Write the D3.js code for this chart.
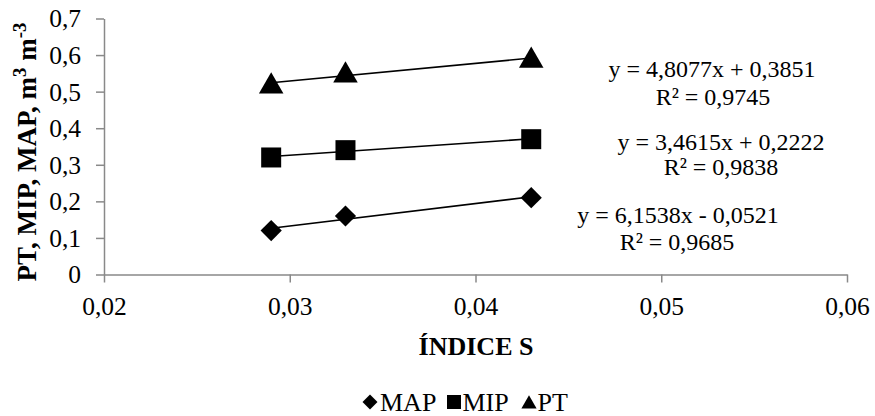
<!DOCTYPE html>
<html><head><meta charset="utf-8">
<script src="https://cdn.jsdelivr.net/npm/d3@7/dist/d3.min.js"></script>
<style>body{margin:0;background:#fff}svg{display:block}svg text{font-family:"Liberation Serif","Times New Roman",serif !important}</style>
</head><body>
<svg id="c" width="875" height="416"></svg>
<script>
const xValues = [0.029, 0.033, 0.043];
const seriesNames = ["MAP", "MIP", "PT"];
const mapValues = [0.12, 0.16, 0.21];
const mipValues = [0.32, 0.34, 0.37];
const ptValues = [0.52, 0.55, 0.59];
const xTicks = [0.02, 0.03, 0.04, 0.05, 0.06];
const yTicks = [0, 0.1, 0.2, 0.3, 0.4, 0.5, 0.6, 0.7];
const equations = ["y = 6,1538x - 0,0521", "y = 3,4615x + 0,2222", "y = 4,8077x + 0,3851"];
const r2Labels = ["R² = 0,9685", "R² = 0,9838", "R² = 0,9745"];

const svg = d3.select("#c");
const x = d3.scaleLinear().domain([0.02, 0.06]).range([104, 847]);
const y = d3.scaleLinear().domain([0, 0.7]).range([274.5, 18.5]);
const fmt = d => d3.format(".2f")(d).replace(".", ",");
const fmtY = d => d === 0 ? "0" : d3.format(".1f")(d).replace(".", ",");
const axisColor = "#898989";
const serif = '"Liberation Serif","Times New Roman",serif';

// axes
const xa = svg.append("g").attr("transform", "translate(0,274.5)")
  .call(d3.axisBottom(x).tickValues(xTicks).tickFormat(fmt).tickSize(8).tickSizeOuter(0));
const ya = svg.append("g").attr("transform", "translate(104,0)")
  .call(d3.axisLeft(y).tickValues(yTicks).tickFormat(fmtY).tickSize(8).tickSizeOuter(0));
[xa, ya].forEach(a => {
  a.attr("font-family", serif).attr("font-size", 25.5);
  a.selectAll("path,line").attr("stroke", axisColor).attr("stroke-width", 1.5);
  a.selectAll("text").attr("fill", "#000");
});
xa.selectAll("text").attr("dy", null).attr("y", 40.5);
ya.selectAll("text").attr("x", -23).attr("dy", "0.33em");

// series
const series = [
  {name: "MAP", values: mapValues, sym: d3.symbolSquare, size: 225, rot: 45},
  {name: "MIP", values: mipValues, sym: d3.symbolSquare, size: 400, rot: 0},
  {name: "PT", values: ptValues, sym: d3.symbolTriangle, size: 260, rot: 0}
];
function fit(xs, ys) {
  const mx = d3.mean(xs), my = d3.mean(ys);
  const b = d3.sum(xs, (v, i) => (v - mx) * (ys[i] - my)) / d3.sum(xs, v => (v - mx) ** 2);
  return {b, a: my - b * mx};
}
series.forEach(s => {
  const f = fit(xValues, s.values);
  const x0 = d3.min(xValues), x1 = d3.max(xValues);
  svg.append("line")
    .attr("x1", x(x0)).attr("y1", y(f.a + f.b * x0))
    .attr("x2", x(x1)).attr("y2", y(f.a + f.b * x1))
    .attr("stroke", "#000").attr("stroke-width", 1.6);
  svg.append("g").selectAll("path").data(xValues).join("path")
    .attr("d", d3.symbol().type(s.sym).size(s.size))
    .attr("transform", (d, i) => `translate(${x(d)},${y(s.values[i]) + (s.sym === d3.symbolTriangle ? 2 : 0)}) rotate(${s.rot})`)
    .attr("fill", "#000");
});

// equations
const eqPos = [[678, 223, 677, 250], [721, 150, 721, 175], [712, 77, 713, 105]];
equations.forEach((e, i) => {
  const p = eqPos[i];
  svg.append("text").attr("x", p[0]).attr("y", p[1]).attr("text-anchor", "middle").attr("font-size", 24).text(e);
  svg.append("text").attr("x", p[2]).attr("y", p[3]).attr("text-anchor", "middle").attr("font-size", 24).text(r2Labels[i]);
});

// axis titles
svg.append("text").attr("x", 476).attr("y", 355).attr("text-anchor", "middle")
  .attr("font-size", 26).attr("font-weight", "bold").text("ÍNDICE S");
const yt = svg.append("text").attr("transform", "translate(36,152) rotate(-90)")
  .attr("text-anchor", "middle").attr("font-size", 27).attr("font-weight", "bold");
yt.append("tspan").text("PT, MIP, MAP, m");
yt.append("tspan").attr("dy", -10).attr("font-size", 19).text("3");
yt.append("tspan").attr("dy", 10).text(" m");
yt.append("tspan").attr("dy", -10).attr("font-size", 19).text("-3");

// legend
const legX = [370, 454, 529];
const legSyms = [[d3.symbolSquare, 112, 45], [d3.symbolSquare, 196, 0], [d3.symbolTriangle, 100, 0]];
seriesNames.forEach((n, i) => {
  svg.append("path").attr("d", d3.symbol().type(legSyms[i][0]).size(legSyms[i][1]))
    .attr("transform", `translate(${legX[i]},${i === 2 ? 404 : 402}) rotate(${legSyms[i][2]})`).attr("fill", "#000");
  svg.append("text").attr("x", legX[i] + (i === 0 ? 10 : 8.5)).attr("y", 411).attr("font-size", 26).text(n);
});
</script>
</body></html>
